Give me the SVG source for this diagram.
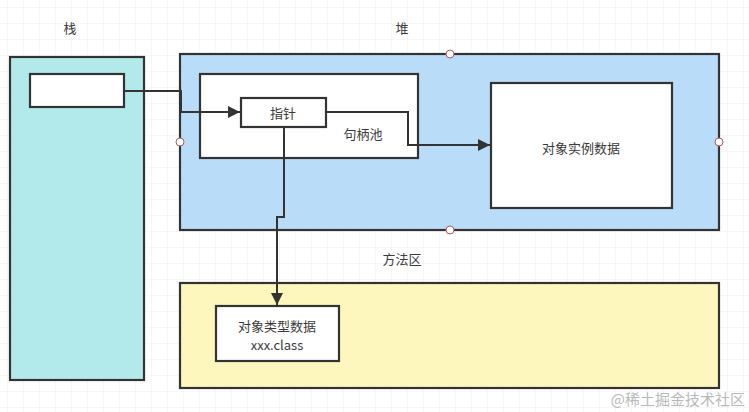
<svg xmlns="http://www.w3.org/2000/svg" width="749" height="412" viewBox="0 0 749 412">
<defs>
<pattern id="grid" x="8" y="8" width="16" height="16" patternUnits="userSpaceOnUse">
<path d="M16 0V16M0 16H16" fill="none" stroke="#eeeeee" stroke-width="1"/>
</pattern>
<marker id="arr" viewBox="0 0 10 10" refX="10" refY="5" markerWidth="6" markerHeight="6" markerUnits="strokeWidth" orient="auto">
<path d="M0 0L10 5L0 10Z" fill="#333333"/>
</marker>
<style>
.box{stroke:#333333;stroke-width:2.2}
.lbl{font-family:"Noto Sans CJK SC","Liberation Sans",sans-serif;font-size:13px;fill:#3a3a3a;text-anchor:middle;dominant-baseline:central}
.conn{fill:none;stroke:#333333;stroke-width:2}
.h{fill:#ffffff;stroke:#b25a5a;stroke-width:1}
</style>
</defs>
<rect width="749" height="412" fill="#ffffff"/>
<rect width="749" height="412" fill="url(#grid)"/>
<text class="lbl" x="70" y="27">栈</text>
<text class="lbl" x="402" y="27">堆</text>
<text class="lbl" x="402" y="258">方法区</text>
<g id="stack">
<rect class="box" x="10" y="57" width="134" height="323" fill="#b2eaeb"/>
</g>
<g id="stack-ref">
<rect class="box" x="30" y="74" width="94" height="33" fill="#ffffff"/>
</g>
<g id="heap">
<rect class="box" x="180" y="54" width="539" height="176" fill="#b9ddf8"/>
</g>
<g id="handle-pool">
<rect class="box" x="200" y="74" width="218" height="84" fill="#ffffff"/>
<text class="lbl" x="363" y="133">句柄池</text>
</g>
<g id="pointer">
<rect class="box" x="241" y="98" width="85" height="29" fill="#ffffff"/>
<text class="lbl" x="283" y="112">指针</text>
</g>
<g id="instance-data">
<rect class="box" x="491" y="83" width="181" height="125" fill="#ffffff"/>
<text class="lbl" x="581" y="147">对象实例数据</text>
</g>
<g id="method-area">
<rect class="box" x="180" y="283" width="539" height="105" fill="#fdf7bd"/>
</g>
<g id="type-data">
<rect class="box" x="216" y="306" width="123" height="55" fill="#ffffff"/>
<text class="lbl" x="277" y="325">对象类型数据</text>
<text class="lbl" x="277" y="344">xxx.class</text>
</g>
<g id="handles">
<circle class="h" cx="450" cy="54" r="4"/>
<circle class="h" cx="450" cy="230" r="4"/>
<circle class="h" cx="180" cy="142" r="4"/>
<circle class="h" cx="719" cy="142" r="4"/>
</g>
<g id="connectors">
<path class="conn" d="M124 91H181V112H240" marker-end="url(#arr)"/>
<path class="conn" d="M326 112H408V145H490" marker-end="url(#arr)"/>
<path class="conn" d="M284 127V217H277V305" marker-end="url(#arr)"/>
</g>
<text x="745" y="398" font-family="Noto Sans CJK SC,Liberation Sans,sans-serif" font-size="15" fill="#b8b8b8" text-anchor="end" dominant-baseline="central">@稀土掘金技术社区</text>
</svg>
